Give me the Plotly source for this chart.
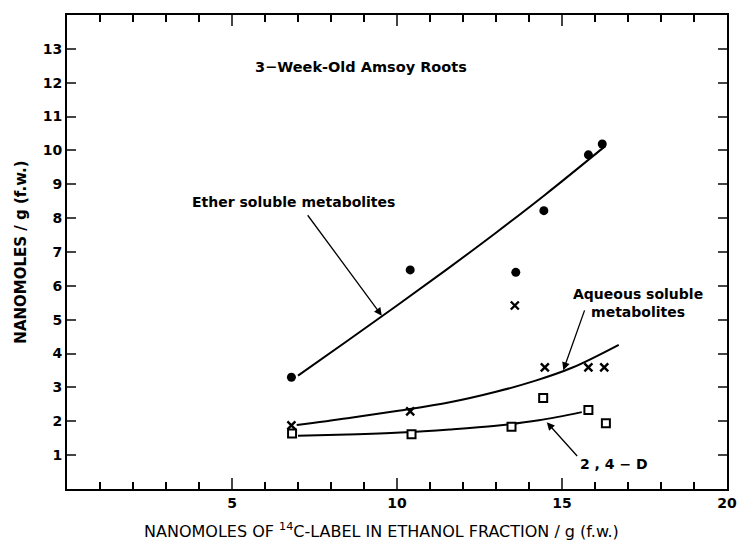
import plotly.graph_objects as go

# Measured data points
ether_x = [6.8, 10.4, 13.6, 14.45, 15.8, 16.22]
ether_y = [3.3, 6.47, 6.4, 8.22, 9.87, 10.19]
aq_x = [6.8, 10.4, 13.57, 14.48, 15.8, 16.28]
aq_y = [1.88, 2.29, 5.42, 3.59, 3.59, 3.59]
d24_x = [6.82, 10.44, 13.47, 14.43, 15.8, 16.33]
d24_y = [1.64, 1.62, 1.84, 2.69, 2.33, 1.94]

# Hand-drawn fitted curves
ether_cx = [7.0, 8.5, 10.0, 11.5, 13.0, 14.5, 16.3]
ether_cy = [3.35, 4.38, 5.42, 6.48, 7.57, 8.7, 10.12]
aq_cx = [6.96, 8.5, 10.04, 11.6, 13.0, 14.2, 15.3, 16.72]
aq_cy = [1.89, 2.09, 2.31, 2.56, 2.87, 3.2, 3.58, 4.26]
d24_cx = [7.0, 8.5, 10.1, 11.6, 13.0, 14.3, 15.6]
d24_cy = [1.57, 1.61, 1.67, 1.76, 1.87, 2.03, 2.27]

x_ticks = [5, 10, 15, 20]
y_ticks = list(range(1, 14))

FONT = "DejaVu Sans"
fig = go.Figure()

for cx, cy in [(ether_cx, ether_cy), (aq_cx, aq_cy), (d24_cx, d24_cy)]:
    fig.add_trace(go.Scatter(x=cx, y=cy, mode="lines",
                             line=dict(color="black", width=2, shape="spline", smoothing=1.0),
                             hoverinfo="skip", showlegend=False))

fig.add_trace(go.Scatter(x=ether_x, y=ether_y, mode="markers",
                         marker=dict(symbol="circle", size=9, color="black"), showlegend=False))
fig.add_trace(go.Scatter(x=aq_x, y=aq_y, mode="markers",
                         marker=dict(symbol="x-thin", size=8, line=dict(color="black", width=2.4)), showlegend=False))
fig.add_trace(go.Scatter(x=d24_x, y=d24_y, mode="markers",
                         marker=dict(symbol="square", size=8, color="white", line=dict(color="black", width=2)),
                         showlegend=False))

anns = []
def txt(x, y, s, size=14):
    anns.append(dict(x=x, y=y, xref="x", yref="y", text=s, showarrow=False,
                     font=dict(family=FONT, size=size, color="black", weight="bold")))

def arrow(x0, y0, x1, y1):
    anns.append(dict(x=x1, y=y1, ax=x0, ay=y0, xref="x", yref="y", axref="x", ayref="y",
                     text="", showarrow=True, arrowhead=2, arrowsize=1.2, arrowwidth=1.3,
                     arrowcolor="black", standoff=0, startstandoff=0))

txt(8.92, 12.46, "3−Week-Old Amsoy Roots", size=14.5)
txt(6.85, 8.47, "Ether soluble metabolites")
txt(17.3, 5.5, "Aqueous soluble<br>metabolites")
txt(16.58, 0.75, "2 , 4 − D", size=14)
arrow(7.26, 8.13, 9.54, 5.12)
arrow(15.7, 5.32, 15.04, 3.51)
arrow(15.5, 0.93, 14.54, 1.97)

# x-axis title (placed as annotation to match off-centre position)
anns.append(dict(x=0.477, y=-0.088, xref="paper", yref="paper", xanchor="center", yanchor="middle",
                 text="NANOMOLES OF <sup>14</sup>C-LABEL IN ETHANOL FRACTION / g (f.w.)", showarrow=False,
                 font=dict(family=FONT, size=16, color="black")))

fig.update_layout(
    width=739, height=548,
    margin=dict(l=67, r=12, t=15, b=59),
    plot_bgcolor="white", paper_bgcolor="white",
    annotations=anns,
    font=dict(family=FONT, size=13, color="black"),
    xaxis=dict(range=[0, 20], tickvals=x_ticks, ticks="inside", ticklen=11, tickwidth=2, automargin=False,
               showline=True, linewidth=2, linecolor="black", mirror="ticks", showgrid=False, zeroline=False,
               minor=dict(dtick=1, ticks="inside", ticklen=7, tickwidth=1.5, tickcolor="black", showgrid=False),
               tickfont=dict(family=FONT, size=14, weight="bold")),
    yaxis=dict(range=[0, 14], tickvals=y_ticks, ticks="inside", ticklen=9, tickwidth=2, automargin=False,
               showline=True, linewidth=2, linecolor="black", mirror="ticks", showgrid=False, zeroline=False,
               tickfont=dict(family=FONT, size=14, weight="bold"),
               title=dict(text="NANOMOLES / g (f.w.)", font=dict(family=FONT, size=15, weight="bold"), standoff=12)),
)

fig.write_html("out.html")
